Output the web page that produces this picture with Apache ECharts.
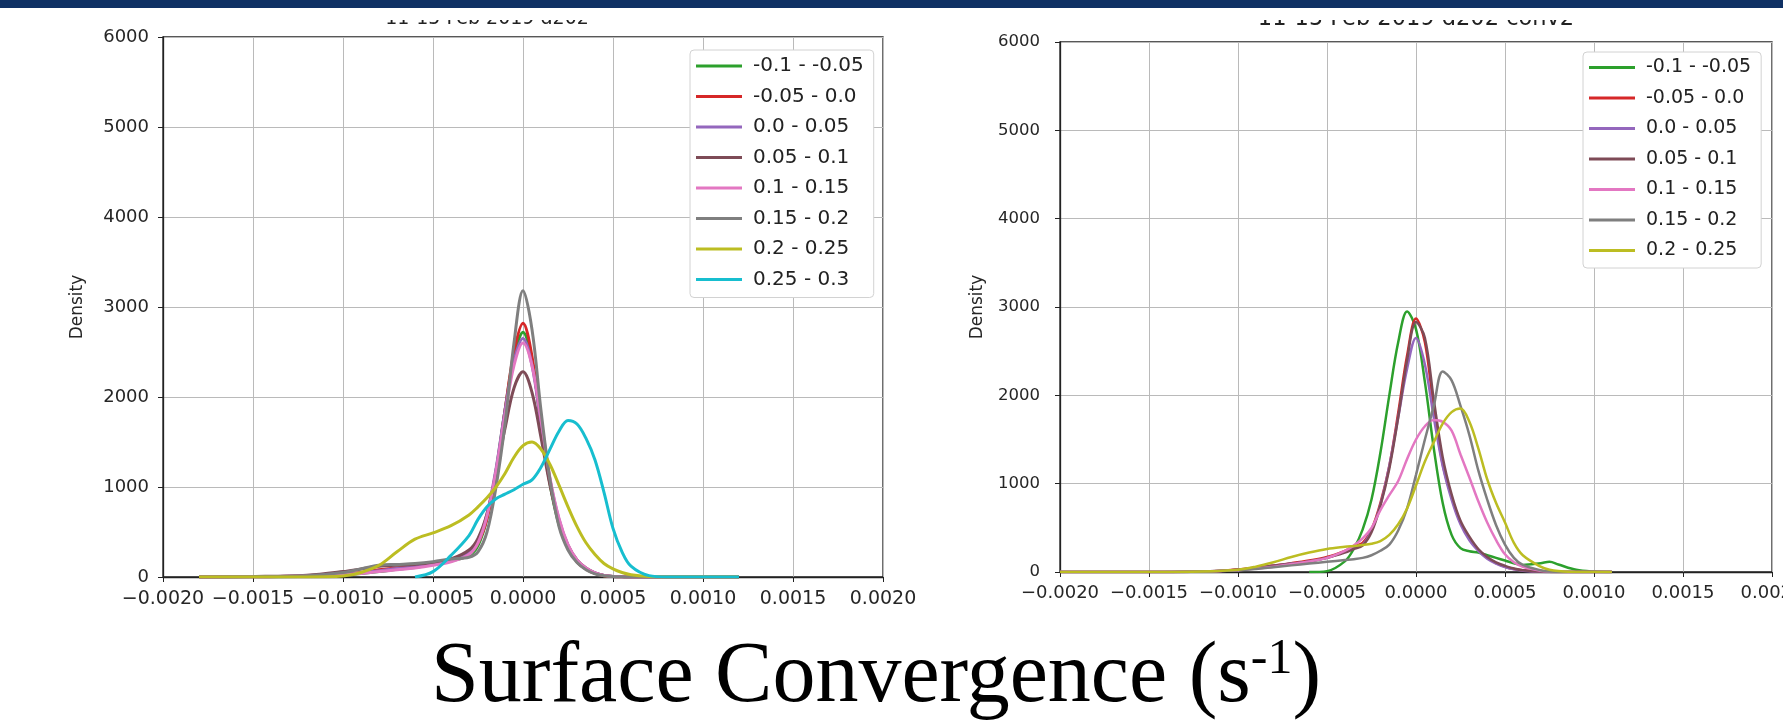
<!DOCTYPE html>
<html>
<head>
<meta charset="utf-8">
<title>Surface Convergence</title>
<script src="https://cdn.jsdelivr.net/npm/echarts@6.0.0/dist/echarts.min.js"></script>
<style>
html, body { margin: 0; padding: 0; background: #fff; }
#main { width: 1783px; height: 720px; }
</style>
</head>
<body>
<div id="main"></div>
<script>
// legend names and colours (same in both panels)
const seriesNames = ['-0.1 - -0.05', '-0.05 - 0.0', '0.0 - 0.05', '0.05 - 0.1', '0.1 - 0.15', '0.15 - 0.2', '0.2 - 0.25', '0.25 - 0.3'];
const lineColors = ['#2ca02c', '#d62728', '#9467bd', '#7e4b57', '#e377c2', '#7f7f7f', '#bcbd22', '#17becf'];

const xTicks = [-0.002, -0.0015, -0.001, -0.0005, 0, 0.0005, 0.001, 0.0015, 0.002];
const yTicks = [0, 1000, 2000, 3000, 4000, 5000, 6000];

const leftTitle = '11-15 Feb 2019 d202';
const rightTitle = '11-15 Feb 2019 d202 conv2';
const bottomLabel = 'Surface Convergence (s';

// left panel: x positions and density per class
const leftX = [-0.0018, -0.0015, -0.0012, -0.001, -0.0009, -0.0008, -0.0007, -0.0006, -0.0005, -0.0004,
    -0.0003, -0.00025, -0.0002, -0.00015, -0.0001, -0.00005, 0, 0.00005, 0.0001, 0.00015,
    0.0002, 0.00025, 0.0003, 0.00035, 0.0004, 0.00045, 0.0005, 0.00055, 0.0006, 0.0007,
    0.0008, 0.001, 0.0012];
const leftGreen = [0, 2, 8, 25, 40, 60, 85, 105, 140, 180, 240, 350, 650, 1180, 1850, 2450, 2720, 2400, 1700, 1030, 580, 320, 170, 90, 40, 15, 5, 2, 0, 0, 0, 0, 0];
const leftRed = [0, 3, 10, 30, 50, 80, 100, 120, 150, 190, 260, 380, 650, 1150, 1850, 2500, 2820, 2450, 1700, 1050, 600, 330, 170, 90, 40, 15, 5, 2, 0, 0, 0, 0, 0];
const leftPurple = [0, 3, 10, 30, 45, 70, 95, 115, 145, 185, 270, 400, 700, 1200, 1850, 2400, 2650, 2350, 1700, 1080, 640, 350, 180, 95, 45, 18, 6, 2, 0, 0, 0, 0, 0];
const leftBrown = [0, 5, 20, 60, 90, 120, 130, 140, 160, 200, 300, 430, 700, 1150, 1650, 2100, 2280, 2050, 1550, 1020, 620, 350, 190, 100, 45, 18, 6, 2, 0, 0, 0, 0, 0];
const leftPink = [0, 3, 10, 25, 40, 60, 80, 100, 130, 170, 250, 380, 680, 1180, 1800, 2350, 2600, 2350, 1750, 1100, 650, 360, 190, 100, 45, 18, 6, 2, 0, 0, 0, 0, 0];
const leftGray = [0, 5, 15, 50, 90, 130, 140, 150, 170, 200, 220, 280, 500, 1000, 1700, 2600, 3180, 2750, 1850, 1080, 560, 300, 160, 80, 35, 15, 5, 2, 0, 0, 0, 0, 0];
const leftYellow = [0, 0, 0, 10, 50, 130, 280, 420, 490, 570, 690, 780, 880, 1000, 1150, 1330, 1460, 1500, 1420, 1250, 1020, 780, 560, 380, 250, 150, 90, 50, 25, 5, 0, 0, 0];
const leftCyan = [null, null, null, null, null, null, null, 0, 60, 240, 460, 640, 780, 870, 920, 970, 1030, 1080, 1220, 1420, 1620, 1740, 1700, 1540, 1300, 940, 540, 280, 120, 15, 0, 0, 0];

// right panel
const rightX = [-0.002, -0.0015, -0.0012, -0.001, -0.0009, -0.0008, -0.0007, -0.0006, -0.0005, -0.0004,
    -0.00035, -0.0003, -0.00025, -0.0002, -0.00015, -0.0001, -0.00005, 0, 0.00005, 0.0001,
    0.00015, 0.0002, 0.00025, 0.0003, 0.00035, 0.0004, 0.00045, 0.0005, 0.00055, 0.0006,
    0.0007, 0.00075, 0.0008, 0.0009, 0.001, 0.0011];
const rightGreen = [null, null, null, null, null, null, null, 0, 10, 120, 260, 480, 820, 1350, 2000, 2600, 2950, 2750, 2150, 1400, 780, 420, 270, 235, 220, 190, 160, 130, 100, 80, 100, 115, 85, 25, 5, 0];
const rightRed = [0, 0, 5, 30, 50, 75, 100, 130, 170, 240, 290, 330, 480, 780, 1200, 1800, 2450, 2870, 2600, 1850, 1220, 850, 560, 380, 250, 160, 100, 60, 35, 20, 5, 2, 0, 0, 0, 0];
const rightPurple = [0, 0, 5, 25, 45, 70, 95, 120, 160, 230, 270, 310, 470, 760, 1200, 1750, 2300, 2650, 2350, 1750, 1200, 820, 540, 360, 240, 150, 95, 55, 30, 15, 3, 0, 0, 0, 0, 0];
const rightBrown = [0, 0, 5, 25, 45, 70, 95, 120, 160, 220, 260, 300, 450, 750, 1170, 1750, 2400, 2830, 2650, 1950, 1300, 880, 580, 400, 260, 170, 110, 70, 40, 20, 5, 0, 0, 0, 0, 0];
const rightPink = [0, 0, 5, 20, 40, 60, 90, 120, 160, 240, 300, 380, 500, 700, 870, 1030, 1280, 1500, 1650, 1720, 1700, 1600, 1330, 1070, 800, 560, 360, 200, 110, 60, 15, 5, 0, 0, 0, 0];
const rightGray = [0, 0, 5, 20, 35, 55, 75, 95, 115, 135, 145, 160, 190, 240, 310, 470, 720, 1100, 1500, 1880, 2270, 2170, 1880, 1550, 1150, 820, 530, 310, 160, 80, 20, 5, 0, 0, 0, 0];
const rightYellow = [0, 0, 5, 25, 60, 110, 170, 220, 260, 285, 295, 305, 320, 350, 420, 540, 720, 980, 1250, 1470, 1680, 1810, 1850, 1700, 1400, 1050, 780, 560, 330, 190, 60, 25, 10, 0, 0, 0];

const leftValues = [leftGreen, leftRed, leftPurple, leftBrown, leftPink, leftGray, leftYellow, leftCyan];
const rightValues = [rightGreen, rightRed, rightPurple, rightBrown, rightPink, rightGray, rightYellow];

const font = 'DejaVu Sans';

function pairs(xs, ys) {
    return xs.map((x, i) => [x, ys[i]]).filter(p => p[1] != null);
}

function tickText(v) {
    let s = Math.abs(v).toFixed(4);
    return (v < -1e-9 ? '\u2212' : '') + s;
}

function makeX(gridIndex, size, margin) {
    return {
        type: 'value', gridIndex: gridIndex,
        min: xTicks[0], max: xTicks[xTicks.length - 1], interval: 0.0005,
        axisLine: { show: true, onZero: false, lineStyle: { color: '#222', width: 1.3 } },
        axisTick: { show: true, length: 5, lineStyle: { color: '#222' } },
        axisLabel: { formatter: tickText, fontSize: size, color: '#262626', fontFamily: font, margin: margin },
        splitLine: { show: true, lineStyle: { color: '#bababa', width: 1 } }
    };
}

function makeY(gridIndex, size, margin, gap) {
    return {
        type: 'value', gridIndex: gridIndex,
        min: yTicks[0], max: yTicks[yTicks.length - 1], interval: 1000,
        name: 'Density', nameLocation: 'middle', nameGap: gap,
        nameTextStyle: { fontSize: 17, color: '#262626', fontFamily: font },
        axisLine: { show: true, onZero: false, lineStyle: { color: '#222', width: 1.3 } },
        axisTick: { show: true, length: 5, lineStyle: { color: '#222' } },
        axisLabel: { formatter: v => String(v), fontSize: size, color: '#262626', fontFamily: font, margin: margin },
        splitLine: { show: true, lineStyle: { color: '#bababa', width: 1 } }
    };
}

function makeLegend(left, top, names, size) {
    return {
        orient: 'vertical', left: left, top: top, data: names,
        selectedMode: false, icon: 'rect', itemWidth: 46, itemHeight: 3, itemGap: 30.5 - size,
        backgroundColor: '#fff', borderColor: '#d2d2d2', borderWidth: 1, borderRadius: 4,
        padding: [6, 10, 8, 6],
        textStyle: { fontSize: size, lineHeight: size, color: '#222', fontFamily: font, padding: [0, 0, 0, 6] }
    };
}

let series = [];
leftValues.forEach((vals, i) => {
    series.push({
        name: seriesNames[i], type: 'line', xAxisIndex: 0, yAxisIndex: 0,
        data: pairs(leftX, vals), showSymbol: false, symbol: 'none',
        smooth: 0.35, color: lineColors[i],
        lineStyle: { width: 3, color: lineColors[i] }, animation: false
    });
});
rightValues.forEach((vals, i) => {
    series.push({
        name: seriesNames[i], type: 'line', xAxisIndex: 1, yAxisIndex: 1,
        data: pairs(rightX, vals), showSymbol: false, symbol: 'none',
        smooth: 0.35, color: lineColors[i],
        lineStyle: { width: 2.5, color: lineColors[i] }, animation: false
    });
});

let chart = echarts.init(document.getElementById('main'));
chart.setOption({
    backgroundColor: '#fff',
    animation: false,
    grid: [
        { left: 163, top: 37, width: 720, height: 540, show: true, borderColor: '#222', borderWidth: 1.3, containLabel: false, outerBoundsMode: 'none' },
        { left: 1060, top: 42, width: 712, height: 530, show: true, borderColor: '#222', borderWidth: 1.3, containLabel: false, outerBoundsMode: 'none' }
    ],
    xAxis: [makeX(0, 19, 13), makeX(1, 18, 12)],
    yAxis: [makeY(0, 18, 14, 77), makeY(1, 16.5, 20, 74)],
    legend: [makeLegend(690, 50, seriesNames, 20), makeLegend(1583, 52, seriesNames.slice(0, 7), 19)],
    series: series,
    graphic: [
        { type: 'text', x: 487, y: 29, z: 10, style: { text: leftTitle, fontSize: 19, fontFamily: font, fill: '#222', align: 'center', verticalAlign: 'bottom' } },
        { type: 'text', x: 1416, y: 31, z: 10, style: { text: rightTitle, fontSize: 22.5, fontFamily: font, fill: '#222', align: 'center', verticalAlign: 'bottom' } },
        { type: 'rect', z: 50, shape: { x: 0, y: 0, width: 1783, height: 20 }, style: { fill: '#fff' } },
        { type: 'rect', z: 60, shape: { x: 0, y: 0, width: 1783, height: 8 }, style: { fill: '#0f3164' } },
        {
            type: 'text', x: 876, y: 678, z: 10,
            style: {
                text: '{a|' + bottomLabel + '}{b|-1}{a|)}',
                align: 'center', verticalAlign: 'middle',
                rich: {
                    a: { fontSize: 86, fontFamily: 'Liberation Serif', fill: '#000' },
                    b: { fontSize: 50, fontFamily: 'Liberation Serif', fill: '#000', verticalAlign: 'top' }
                }
            }
        }
    ]
});
</script>
</body>
</html>
